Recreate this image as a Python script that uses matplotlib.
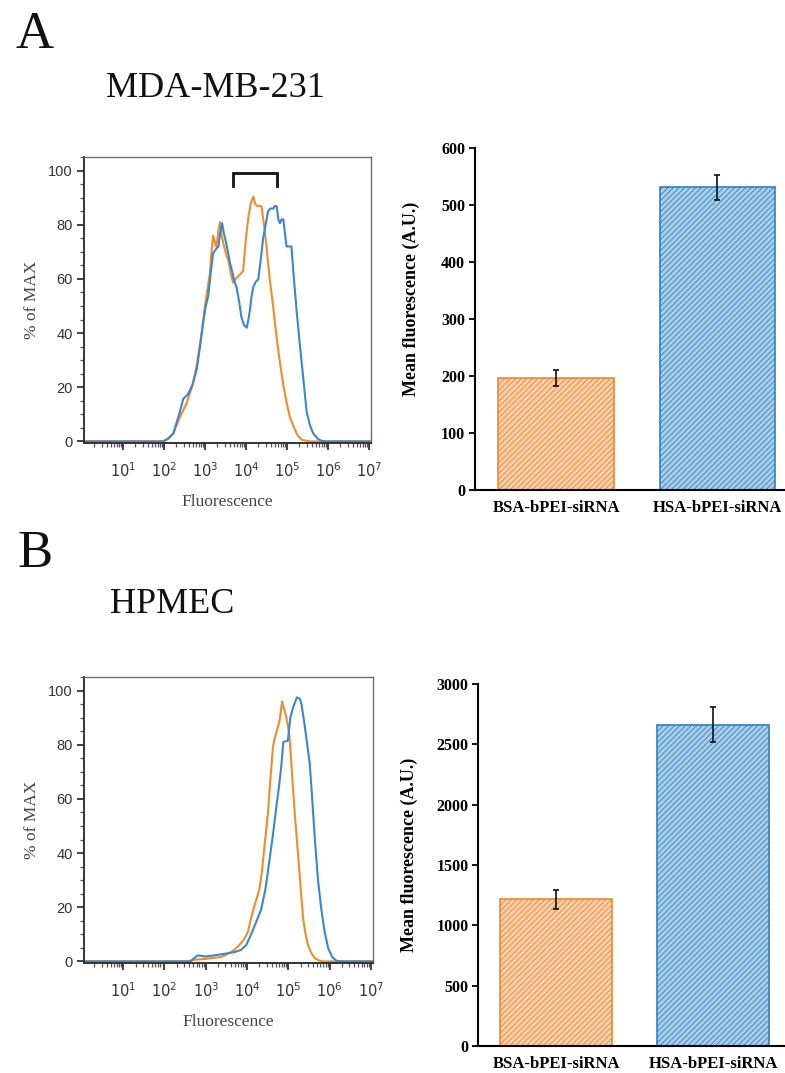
import numpy as np
import matplotlib
matplotlib.use("Agg")
from matplotlib import pyplot as plt
from matplotlib.ticker import FixedLocator, LogLocator, LogFormatterSciNotation, MultipleLocator

plt.rcParams['mathtext.fontset'] = 'custom'
plt.rcParams['mathtext.rm'] = 'Liberation Sans'
plt.rcParams['mathtext.it'] = 'Liberation Sans'
plt.rcParams['hatch.linewidth'] = 0.6

_ORANGE = '#f08c2a'
_BLUE = '#3a86cf'
_SERIF = 'Liberation Serif'
_SANS = 'Liberation Sans'

# ---- data: histograms, x in log10(fluorescence), y in % of max ----
hist_a_orange_logx = [0.05, 1.98, 2.1, 2.23, 2.39, 2.55, 2.7, 2.80, 2.9, 3.0, 3.07, 3.12, 3.17, 3.20,
                      3.25, 3.28, 3.33, 3.37, 3.41, 3.45, 3.52, 3.57, 3.63, 3.69, 3.75, 3.81, 3.88,
                      3.93, 4.0, 4.06, 4.12, 4.18, 4.22, 4.26, 4.32, 4.38, 4.44, 4.50, 4.58, 4.67,
                      4.75, 4.83, 4.91, 4.99, 5.07, 5.15, 5.25, 5.36, 5.56, 7.05]
hist_a_orange_pct = [0, 0, 1, 3, 9, 14, 21, 28, 38, 50, 57, 62, 72, 76,
                     73, 72, 78, 81, 76, 73, 69, 67, 62, 58.6, 60, 61, 62,
                     63, 75, 83, 88, 90.4, 88, 87, 87, 86.8, 80, 72, 60, 49,
                     38, 29, 21, 14.5, 9, 6, 2.5, 0.6, 0, 0]
hist_a_blue_logx = [0.05, 1.98, 2.1, 2.23, 2.39, 2.47, 2.59, 2.7, 2.80, 2.88, 2.96, 3.02, 3.08, 3.14,
                    3.20, 3.27, 3.33, 3.38, 3.42, 3.46, 3.50, 3.56, 3.61, 3.66, 3.72, 3.77, 3.83,
                    3.89, 3.95, 4.02, 4.06, 4.10, 4.14, 4.18, 4.24, 4.30, 4.36, 4.42, 4.48, 4.54,
                    4.60, 4.67, 4.71, 4.75, 4.79, 4.83, 4.87, 4.91, 4.95, 4.99, 5.05, 5.11, 5.17,
                    5.24, 5.30, 5.36, 5.42, 5.48, 5.56, 5.64, 5.75, 5.85, 5.95, 7.05]
hist_a_blue_pct = [0, 0, 1, 3, 11, 15.7, 17.5, 21, 26.7, 35, 44, 50, 53.7, 62,
                   69.6, 71, 72, 78, 80.6, 77, 74.5, 70, 66, 63, 59, 57, 52,
                   46, 43, 42, 45, 48.8, 54, 57, 59, 59.8, 67, 75, 80, 85,
                   86, 86, 87, 86.8, 82, 80.6, 82, 82, 77, 72, 72, 72, 60,
                   47.5, 38, 29, 20, 11, 6, 3, 1, 0.2, 0, 0]

hist_b_orange_logx = [0.05, 2.55, 2.72, 3.04, 3.37, 3.5, 3.61, 3.71, 3.81, 3.92, 4.02, 4.10, 4.18,
                      4.24, 4.30, 4.36, 4.42, 4.50, 4.57, 4.63, 4.68, 4.73, 4.79, 4.85, 4.90, 4.95,
                      5.0, 5.03, 5.07, 5.11, 5.17, 5.24, 5.30, 5.36, 5.42, 5.48, 5.56, 5.64, 5.75,
                      5.85, 7.05]
hist_b_orange_pct = [0, 0, 0.6, 1, 1.6, 2.5, 3.4, 4.5, 6, 8, 10.8, 16, 20.6,
                     23.5, 26.7, 33, 42, 53.7, 68, 79.4, 83, 85.5, 89, 96, 93, 90.4,
                     86, 83, 74, 64.7, 52, 39, 27, 15.7, 10, 5.9, 3, 1.2, 0.3,
                     0, 0]
hist_b_blue_logx = [0.05, 2.63, 2.72, 2.80, 3.0, 3.20, 3.45, 3.69, 3.85, 3.98, 4.10, 4.22, 4.34,
                    4.45, 4.55, 4.63, 4.71, 4.77, 4.83, 4.88, 4.99, 5.05, 5.12, 5.21, 5.28, 5.32,
                    5.36, 5.40, 5.46, 5.52, 5.58, 5.64, 5.72, 5.80, 5.88, 5.97, 6.07, 6.17, 6.33,
                    7.05]
hist_b_blue_pct = [0, 0, 1.2, 2.2, 1.8, 2.2, 2.8, 3.4, 4.2, 6, 10, 14.5, 19,
                   27, 38, 47, 57, 64, 72, 81, 81.5, 90, 94, 97.5, 97, 95,
                   91, 86.8, 80, 73, 60, 46, 30, 19.4, 11, 4.7, 1.5, 0.2, 0,
                   0]

# ---- data: bar charts ----
groups = ['BSA-bPEI-siRNA', 'HSA-bPEI-siRNA']
bar_a_mean = [197, 531]
bar_a_err = [14, 22]
bar_b_mean = [1215, 2660]
bar_b_err = [78, 145]

# bracket over panel A histogram (log10 x, % of max)
bracket_logx = [3.69, 4.75]
bracket_y = [94.4, 99.2]


def plot_hist(ax, series):
    for logx, pct, color in series:
        ax.plot(np.power(10.0, logx), pct, color=color, linewidth=1.5, solid_joinstyle='round')
    ax.set_xscale('log')
    ax.set_xlim(10 ** 0.05, 10 ** 7.05)
    ax.xaxis.set_major_locator(FixedLocator([10.0 ** k for k in range(1, 8)]))
    ax.xaxis.set_major_formatter(LogFormatterSciNotation())
    ax.xaxis.set_minor_locator(LogLocator(base=10, subs=np.arange(2, 10), numticks=20))
    ax.yaxis.set_major_locator(MultipleLocator(20))
    ax.yaxis.set_minor_locator(MultipleLocator(5))
    ax.set_ylim(-0.6, 105)
    for side in ['right', 'top']:
        ax.spines[side].set_color('#6e6e6e')
        ax.spines[side].set_linewidth(1.0)
    for side in ['bottom', 'left']:
        ax.spines[side].set_color('#333333')
        ax.spines[side].set_linewidth(1.4)
    ax.tick_params(axis='both', which='major', length=5, width=1.3, color='#333333',
                   labelsize=10.5, labelcolor='#333333', pad=3)
    ax.tick_params(axis='both', which='minor', length=3, width=0.9, color='#555555')
    ax.tick_params(axis='x', which='major', pad=8)
    for lab in ax.get_yticklabels():
        lab.set_fontfamily(_SANS)
    ax.set_ylabel('% of MAX', fontfamily=_SERIF, fontsize=12.5, color='#444444', labelpad=6)
    ax.set_xlabel('Fluorescence', fontfamily=_SERIF, fontsize=12.5, color='#444444', labelpad=10)


def plot_bars(ax, means, errs, ymax, step, label_xy):
    x = np.arange(len(groups))
    ax.bar(x, means, width=0.715, color=['#f8cda8', '#a9cfe7'], edgecolor=['#e58a34', '#2f80c4'],
           linewidth=1.2, hatch='//////')
    ax.errorbar(x, means, yerr=errs, fmt='none', ecolor='#111111', elinewidth=1.2, capsize=2.5,
                capthick=1.2)
    ax.set_xticks(x)
    ax.set_xticklabels(groups, fontfamily=_SERIF, fontweight='bold', fontsize=12)
    ax.set_ylim(0, ymax)
    ax.yaxis.set_major_locator(MultipleLocator(step))
    ax.spines['top'].set_visible(False)
    ax.spines['right'].set_visible(False)
    ax.spines['left'].set_linewidth(1.5)
    ax.spines['bottom'].set_linewidth(1.5)
    ax.tick_params(axis='x', length=0, pad=7)
    ax.tick_params(axis='y', length=4, width=1.3, labelsize=11.5, pad=3)
    for lab in ax.get_yticklabels():
        lab.set_fontfamily(_SERIF)
        lab.set_fontweight('bold')
    ax.set_ylabel('Mean fluorescence (A.U.)', fontfamily=_SERIF, fontweight='bold', fontsize=13)
    ax.yaxis.set_label_coords(label_xy[0], label_xy[1])


fig = plt.figure(figsize=(7.85, 10.73), dpi=100)

# panel A
ax_ha = fig.add_axes([0.107, 0.5871, 0.3656, 0.2665])
plot_hist(ax_ha, [(hist_a_orange_logx, hist_a_orange_pct, _ORANGE),
                  (hist_a_blue_logx, hist_a_blue_pct, _BLUE)])
bx = np.power(10.0, bracket_logx)
ax_ha.plot([bx[0], bx[0], bx[1], bx[1]], [bracket_y[0], bracket_y[1], bracket_y[1], bracket_y[0]],
           color='#111111', linewidth=2.0, solid_joinstyle='miter')

ax_ba = fig.add_axes([0.605, 0.5433, 0.395, 0.3187])
plot_bars(ax_ba, bar_a_mean, bar_a_err, 600, 100, (-0.177, 0.56))
ax_ba.set_xlim(-0.503, 1.42)

# panel B
ax_hb = fig.add_axes([0.107, 0.1025, 0.368, 0.2665])
plot_hist(ax_hb, [(hist_b_orange_logx, hist_b_orange_pct, _ORANGE),
                  (hist_b_blue_logx, hist_b_blue_pct, _BLUE)])

ax_bb = fig.add_axes([0.609, 0.0252, 0.391, 0.3374])
plot_bars(ax_bb, bar_b_mean, bar_b_err, 3000, 500, (-0.195, 0.528))
ax_bb.set_xlim(-0.50, 1.46)

# panel letters and cell line titles
fig.text(16 / 785, 1 - 48 / 1073, 'A', fontfamily=_SERIF, fontsize=38, color='#111111')
fig.text(106 / 785, 1 - 97 / 1073, 'MDA-MB-231', fontfamily=_SERIF, fontsize=26, color='#111111')
fig.text(17 / 785, 1 - 567 / 1073, 'B', fontfamily=_SERIF, fontsize=38, color='#111111')
fig.text(110 / 785, 1 - 613 / 1073, 'HPMEC', fontfamily=_SERIF, fontsize=26, color='#111111')

plt.savefig('out.png', dpi=100)
plt.close('all')
